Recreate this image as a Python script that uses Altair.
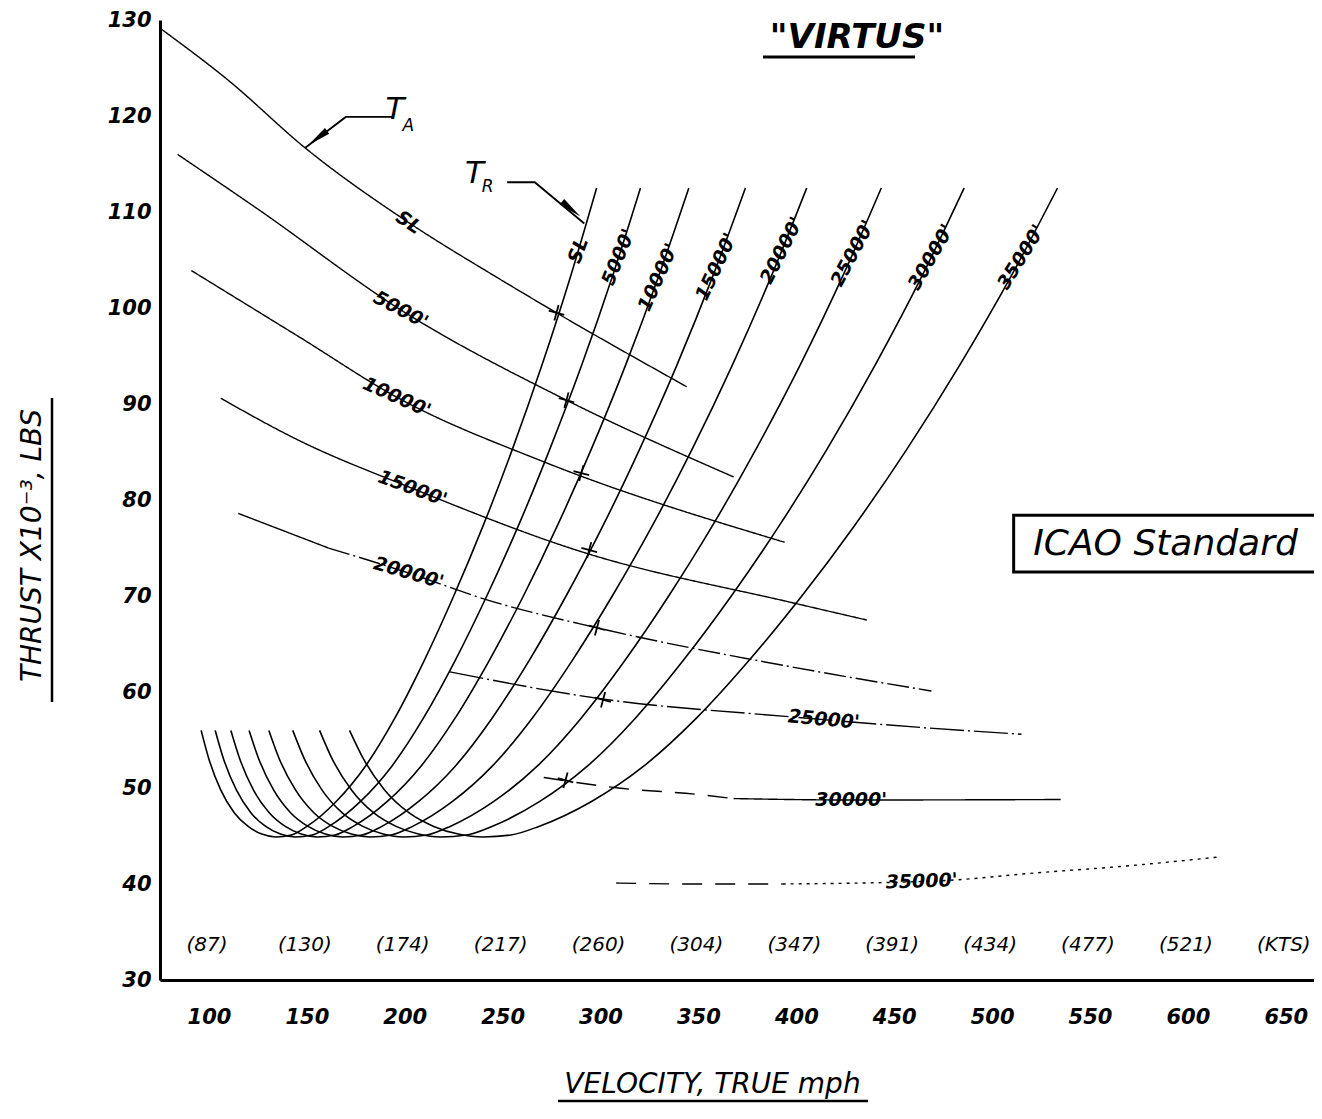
import numpy as np
import pandas as pd
import altair as alt

# ---------------- data ----------------
mph_ticks = [100, 150, 200, 250, 300, 350, 400, 450, 500, 550, 600, 650]
kts_labels = ["(87)", "(130)", "(174)", "(217)", "(260)", "(304)", "(347)",
              "(391)", "(434)", "(477)", "(521)", "(KTS)"]
thrust_ticks = [30, 40, 50, 60, 70, 80, 90, 100, 110, 120, 130]
altitudes = ["SL", "5000'", "10000'", "15000'", "20000'", "25000'", "30000'", "35000'"]

# Thrust required (T_R) curves: common thrust list, speeds per altitude
tr_thrust = [56.0, 53.0, 49.8, 47.4, 46.0, 45.2, 44.9, 45.1, 46.0, 48.6, 52.3,
             57.3, 63.3, 70.0, 77.3, 85.3, 94.0, 103.5, 112.5]
tr_speed_sl = [96.0, 100.0, 106.0, 113.0, 120.0, 127.0, 134.0, 142.0, 150.0, 165.0, 180.0,
               195.0, 210.0, 225.0, 240.0, 255.0, 270.0, 285.0, 298.0]
tr_speed_5000 = [103.2, 107.5, 114.0, 121.5, 129.0, 136.5, 144.1, 152.7, 161.3, 177.4, 193.5,
                 209.6, 225.8, 241.9, 258.0, 274.1, 290.3, 306.4, 320.4]
tr_speed_10000 = [111.2, 115.8, 122.7, 130.9, 139.0, 147.1, 155.2, 164.4, 173.7, 191.1, 208.4,
                  225.8, 243.2, 260.6, 277.9, 295.3, 312.7, 330.0, 345.1]
tr_speed_15000 = [120.5, 125.5, 133.0, 141.8, 150.6, 159.4, 168.2, 178.2, 188.3, 207.1, 225.9,
                  244.7, 263.6, 282.4, 301.2, 320.0, 338.9, 357.7, 374.0]
tr_speed_20000 = [130.6, 136.0, 144.2, 153.7, 163.2, 172.7, 182.2, 193.1, 204.0, 224.4, 244.8,
                  265.2, 285.6, 306.0, 326.4, 346.8, 367.2, 387.6, 405.3]
tr_speed_25000 = [142.8, 148.8, 157.7, 168.1, 178.6, 189.0, 199.4, 211.3, 223.2, 245.5, 267.8,
                  290.2, 312.5, 334.8, 357.1, 379.4, 401.8, 424.1, 443.4]
tr_speed_30000 = [156.5, 163.0, 172.8, 184.2, 195.6, 207.0, 218.4, 231.5, 244.5, 269.0, 293.4,
                  317.9, 342.3, 366.8, 391.2, 415.7, 440.1, 464.6, 485.7]
tr_speed_35000 = [171.8, 179.0, 189.7, 202.3, 214.8, 227.3, 239.9, 254.2, 268.5, 295.4, 322.2,
                  349.1, 375.9, 402.8, 429.6, 456.5, 483.3, 510.2, 533.4]

# Thrust available (T_A) curves
ta_speed_sl = [76, 110, 149, 202, 247, 277.5, 344]
ta_thrust_sl = [129.0, 123.7, 116.7, 108.9, 103.2, 99.5, 91.8]
ta_speed_5000 = [84, 125, 198, 282.6, 368]
ta_thrust_5000 = [116.0, 110.3, 99.8, 90.4, 82.4]
ta_speed_10000 = [91, 146, 196, 272, 394]
ta_thrust_10000 = [103.9, 97.0, 90.7, 83.9, 75.6]
ta_speed_15000 = [106, 146, 204, 292, 398, 436]
ta_thrust_15000 = [90.6, 86.2, 81.2, 74.5, 69.3, 67.5]
ta_speed_20000 = [115, 161, 202, 242, 298, 398, 469]
ta_thrust_20000 = [78.6, 75.0, 72.4, 69.6, 66.7, 62.6, 60.1]
ta_speed_25000 = [223, 300, 398, 464, 515]
ta_thrust_25000 = [62.1, 59.3, 57.4, 56.3, 55.6]
ta_speed_30000 = [271, 309, 351, 368, 428, 535]
ta_thrust_30000 = [51.1, 50.0, 49.3, 48.9, 48.75, 48.8]
ta_speed_35000 = [308, 350, 393, 470, 525, 570, 615]
ta_thrust_35000 = [40.1, 40.0, 40.0, 40.3, 41.2, 41.9, 42.8]

# maximum-speed crossings (T_A = T_R) marked with crosses
vmax_speed = [277.5, 282.6, 290.2, 294.2, 298.2, 301.3, 282.1]
vmax_thrust = [99.5, 90.4, 82.8, 74.8, 66.7, 59.2, 50.8]

# where the altitude names are written on the curves
ta_label_speed = [202, 198, 196, 204, 202, 414, 428, 464]
tr_label_thrust = [106.0, 105.3, 103.2, 104.3, 106.0, 105.7, 105.3, 105.3]

# ---------------- build tables ----------------
FONT = "DejaVu Sans"
tr_speeds = [tr_speed_sl, tr_speed_5000, tr_speed_10000, tr_speed_15000,
             tr_speed_20000, tr_speed_25000, tr_speed_30000, tr_speed_35000]
ta_speeds = [ta_speed_sl, ta_speed_5000, ta_speed_10000, ta_speed_15000,
             ta_speed_20000, ta_speed_25000, ta_speed_30000, ta_speed_35000]
ta_thrusts = [ta_thrust_sl, ta_thrust_5000, ta_thrust_10000, ta_thrust_15000,
              ta_thrust_20000, ta_thrust_25000, ta_thrust_30000, ta_thrust_35000]

rows = []
for name, sp in zip(altitudes, tr_speeds):
    for i, (v, t) in enumerate(zip(sp, tr_thrust)):
        rows.append(dict(curve="TR " + name, mph=v, thrust=t, i=i))
tr_df = pd.DataFrame(rows)

# line style segments of the T_A curves (style, start index, end index)
ta_segments = {
    "SL": [("solid", 0, None)],
    "5000'": [("solid", 0, None)],
    "10000'": [("solid", 0, None)],
    "15000'": [("solid", 0, None)],
    "20000'": [("solid", 0, 2), ("dashdot", 1, None)],
    "25000'": [("dashdot2", 0, None)],
    "30000'": [("dash", 0, 4), ("solid", 3, None)],
    "35000'": [("dash", 0, 3), ("dot", 2, None)],
}
rows = []
for name, sp, th in zip(altitudes, ta_speeds, ta_thrusts):
    for k, (style, a, b) in enumerate(ta_segments[name]):
        for i, (v, t) in enumerate(list(zip(sp, th))[a:b]):
            rows.append(dict(curve=f"TA {name} {k}", style=style, mph=v, thrust=t, i=i))
ta_df = pd.DataFrame(rows)

ta_angles = [34, 28, 24, 20, 16, 5, 0, 358]
ta_lab = pd.DataFrame(dict(
    label=altitudes,
    mph=ta_label_speed,
    thrust=[float(np.interp(v, s, t)) for v, s, t in zip(ta_label_speed, ta_speeds, ta_thrusts)],
    ang=ta_angles))

tr_angles = [290, 292, 294, 295, 297, 298, 300, 302]
tr_lab = pd.DataFrame(dict(
    label=altitudes,
    thrust=tr_label_thrust,
    mph=[float(np.interp(t, tr_thrust[6:], s[6:])) for t, s in zip(tr_label_thrust, tr_speeds)],
    ang=tr_angles))

vmax_df = pd.DataFrame(dict(mph=vmax_speed, thrust=vmax_thrust))
kts_df = pd.DataFrame(dict(mph=mph_ticks, thrust=[33.6] * len(mph_ticks), label=kts_labels))

# ---------------- encodings ----------------
def X():
    return alt.X("mph:Q", scale=alt.Scale(domain=[75, 664.4], nice=False, zero=False),
                 axis=alt.Axis(values=mph_ticks, ticks=False, grid=False, domainWidth=3,
                               domainColor="black", labelFont=FONT, labelFontSize=21,
                               labelFontStyle="italic", labelFontWeight="bold", labelColor="black",
                               labelPadding=26, labelFlush=False, labelOverlap=False,
                               title="VELOCITY, TRUE mph", titleFont=FONT, titleFontSize=28,
                               titleFontStyle="italic", titleFontWeight="normal", titleColor="black",
                               titleX=552, titleY=104, titleAlign="center", titleBaseline="middle"))


def Y():
    return alt.Y("thrust:Q", scale=alt.Scale(domain=[30, 130], nice=False, zero=False),
                 axis=alt.Axis(values=thrust_ticks, ticks=False, grid=False, domainWidth=3,
                               domainColor="black", labelFont=FONT, labelFontSize=21,
                               labelFontStyle="italic", labelFontWeight="bold", labelColor="black",
                               labelPadding=9, labelFlush=False, labelOverlap=False,
                               title="THRUST X10⁻³, LBS", titleFont=FONT, titleFontSize=28,
                               titleFontStyle="italic", titleFontWeight="normal", titleColor="black",
                               titleAngle=270, titleX=-128, titleY=525, titleAlign="center",
                               titleBaseline="middle"))


tr_lines = alt.Chart(tr_df).mark_line(color="black", strokeWidth=1.6, interpolate="monotone").encode(
    x=X(), y=Y(), detail="curve:N", order="i:Q")

ta_lines = alt.Chart(ta_df).mark_line(color="black", strokeWidth=1.4, interpolate="monotone").encode(
    x=X(), y=Y(), detail="curve:N", order="i:Q",
    strokeDash=alt.StrokeDash("style:N", legend=None, scale=alt.Scale(
        domain=["solid", "dashdot", "dashdot2", "dash", "dot"],
        range=[[1, 0], [22, 4, 2, 4], [34, 4, 2, 4], [20, 13], [3, 5]])))

crosses = alt.Chart(vmax_df).mark_point(
    shape="M-1,0L1,0M0,-1L0,1", size=260, color="black", strokeWidth=1.8, filled=False,
    angle=15, opacity=1).encode(x=X(), y=Y())

ta_text = alt.Chart(ta_lab).mark_text(
    font=FONT, fontSize=19, fontStyle="italic", fontWeight="bold", color="black",
    align="center", baseline="middle").encode(
    x=X(), y=Y(), text="label:N", angle=alt.Angle("ang:Q", scale=None))

tr_text = alt.Chart(tr_lab).mark_text(
    font=FONT, fontSize=19, fontStyle="italic", fontWeight="bold", color="black",
    align="center", baseline="middle").encode(
    x=X(), y=Y(), text="label:N", angle=alt.Angle("ang:Q", scale=None))

kts_text = alt.Chart(kts_df).mark_text(
    font=FONT, fontSize=20, fontStyle="italic", color="black",
    align="center", baseline="middle", dx=-2).encode(x=X(), y=Y(), text="label:N")

# leaders with arrowheads for T_A and T_R
lead_df = pd.DataFrame(dict(
    curve=["a", "a", "a", "r", "r", "r"],
    mph=[193.7, 169.9, 149.2, 252.3, 266.4, 291.7],
    thrust=[119.9, 119.9, 116.7, 113.1, 113.1, 108.8],
    i=[0, 1, 2, 0, 1, 2]))
leaders = alt.Chart(lead_df).mark_line(color="black", strokeWidth=1.8).encode(
    x=X(), y=Y(), detail="curve:N", order="i:Q")
head_df = pd.DataFrame(dict(mph=[155.5, 285.0], thrust=[117.7, 110.3], ang=[233, 129]))
heads = alt.Chart(head_df).mark_point(
    shape="M0,-1L0.3,1L-0.3,1Z", size=560, filled=True, color="black", opacity=1).encode(
    x=X(), y=Y(), angle=alt.Angle("ang:Q", scale=None))

sym_df = pd.DataFrame(dict(
    mph=[195.0, 201.8, 235.6, 242.3],
    thrust=[120.6, 119.0, 114.0, 112.6],
    label=["T", "A", "T", "R"],
    size=[31, 17, 31, 17]))
syms = alt.Chart(sym_df).mark_text(
    font=FONT, fontStyle="italic", color="black", align="center", baseline="middle").encode(
    x=X(), y=Y(), text="label:N", size=alt.Size("size:Q", scale=None, legend=None))

# ICAO box
icao_box = alt.Chart(pd.DataFrame(dict(mph=[511.0], mph2=[700.0], thrust=[78.4], thrust2=[72.5]))).mark_rect(
    fill=None, fillOpacity=0, stroke="black", strokeWidth=3).encode(
    x=X(), x2="mph2:Q", y=Y(), y2="thrust2:Q")
icao_text = alt.Chart(pd.DataFrame(dict(mph=[521.0], thrust=[75.4], label=["ICAO Standard"]))).mark_text(
    font=FONT, fontSize=36, fontStyle="italic", color="black", align="left", baseline="middle").encode(
    x=X(), y=Y(), text="label:N")

title = alt.Chart(pd.DataFrame(dict(mph=[431.0], thrust=[128.1], label=['"VIRTUS"']))).mark_text(
    font=FONT, fontSize=34, fontStyle="italic", fontWeight="bold", color="black",
    align="center", baseline="middle").encode(x=X(), y=Y(), text="label:N")

one = pd.DataFrame(dict(k=[0]))
ul_title = alt.Chart(one).mark_rule(color="black", strokeWidth=3).encode(
    x=alt.value(603), x2=alt.value(755), y=alt.value(37))
ul_x = alt.Chart(one).mark_rule(color="black", strokeWidth=2.5).encode(
    x=alt.value(398), x2=alt.value(708), y=alt.value(1081))
ul_y = alt.Chart(one).mark_rule(color="black", strokeWidth=2.5).encode(
    x=alt.value(-108), y=alt.value(378), y2=alt.value(682))

chart = alt.layer(
    tr_lines, ta_lines, crosses, ta_text, tr_text, kts_text, leaders, heads, syms,
    icao_box, icao_text, title, ul_title, ul_x, ul_y
).properties(
    width=1154, height=960,
    autosize=alt.AutoSizeParams(type="none"),
    padding={"left": 152, "top": 12, "right": 0, "bottom": 125},
    background="white"
).configure_view(stroke=None)

chart.save("out.html", embed_options={"renderer": "svg", "actions": False})
